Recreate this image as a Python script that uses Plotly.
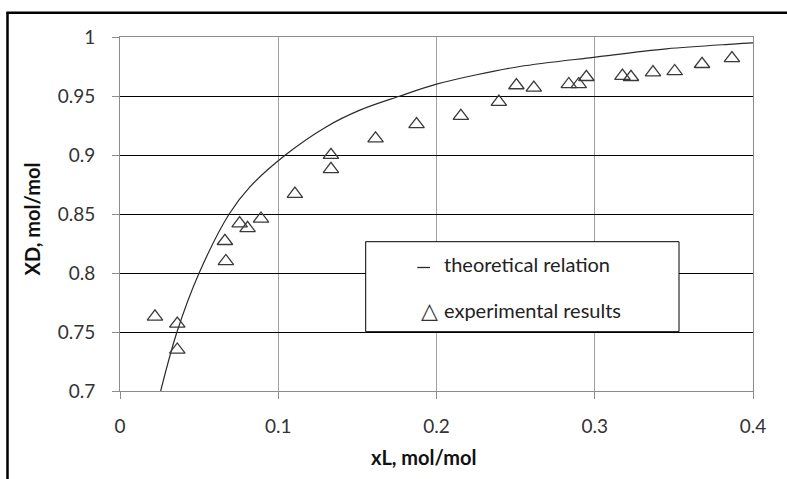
import plotly.graph_objects as go

# ---- data ----
curve_x = [0.0257, 0.036, 0.050, 0.069, 0.0821, 0.1045, 0.1305, 0.1516, 0.177, 0.2,
           0.2253, 0.2526, 0.3004, 0.3453, 0.3874, 0.4]
curve_y = [0.700, 0.750, 0.800, 0.850, 0.873, 0.900, 0.924, 0.938, 0.950, 0.960,
           0.968, 0.975, 0.983, 0.990, 0.994, 0.995]

exp_x = [0.0221, 0.0362, 0.0362, 0.0663, 0.0669, 0.0756, 0.0806, 0.0891, 0.1105, 0.1333,
         0.1333, 0.1615, 0.1874, 0.2154, 0.2394, 0.2505, 0.2615, 0.2836, 0.2899, 0.2947,
         0.3175, 0.3229, 0.3368, 0.3505, 0.3678, 0.3867]
exp_y = [0.763, 0.757, 0.735, 0.827, 0.810, 0.842, 0.838, 0.846, 0.867, 0.900,
         0.888, 0.914, 0.926, 0.933, 0.945, 0.959, 0.957, 0.960, 0.960, 0.966,
         0.967, 0.966, 0.970, 0.971, 0.977, 0.982]

x_tick_vals = [0, 0.1, 0.2, 0.3, 0.4]
x_tick_text = ["0", "0.1", "0.2", "0.3", "0.4"]
y_tick_vals = [0.7, 0.75, 0.8, 0.85, 0.9, 0.95, 1.0]
y_tick_text = ["0.7", "0.75", "0.8", "0.85", "0.9", "0.95", "1"]

series_names = ["theoretical relation", "experimental results"]
x_title = "xL, mol/mol"
y_title = "XD, mol/mol"

# ---- layout geometry (pixels) ----
W, H = 787, 479
ML, MR, MT, MB = 120, 34, 37, 88


def px(x):
    return (x - ML) / (W - ML - MR)


def py(y):
    return (H - MB - y) / (H - MT - MB)


FONT = "Lato"
GRAY = "#8c8c8c"

fig = go.Figure()
fig.add_trace(go.Scatter(
    x=curve_x, y=curve_y, mode="lines", name=series_names[0],
    line=dict(color="#2a2a2a", width=1.2, shape="spline", smoothing=1.0),
    showlegend=False,
))
fig.add_trace(go.Scatter(
    x=exp_x, y=exp_y, mode="markers", name=series_names[1],
    marker=dict(symbol="triangle-up-open", size=13.5, color="#3a3a3a",
                line=dict(width=1.3, color="#3a3a3a")),
    showlegend=False,
))

fig.update_layout(
    width=W, height=H,
    margin=dict(l=ML, r=MR, t=MT, b=MB, autoexpand=False),
    paper_bgcolor="white", plot_bgcolor="white",
    font=dict(family=FONT, size=19, color="#333333"),
    showlegend=False,
)
fig.update_xaxes(
    range=[0, 0.4], tickvals=x_tick_vals, ticktext=x_tick_text,
    showgrid=True, gridcolor="#a0a0a0", gridwidth=1,
    showline=True, linecolor=GRAY, linewidth=1, mirror=True,
    ticks="outside", ticklen=7, tickcolor=GRAY, tickwidth=1,
    ticklabelstandoff=11, zeroline=False, automargin=False,
    tickfont=dict(family=FONT, size=19, color="#333333"),
)
fig.update_yaxes(
    range=[0.7, 1.0], tickvals=y_tick_vals, ticktext=y_tick_text,
    showgrid=True, gridcolor="#000000", gridwidth=1,
    showline=True, linecolor=GRAY, linewidth=1, mirror=True,
    ticks="outside", ticklen=7, tickcolor=GRAY, tickwidth=1,
    ticklabelstandoff=13, zeroline=False, automargin=False,
    tickfont=dict(family=FONT, size=19, color="#333333"),
)

shapes = [
    # outer chart frame (cropped on right and bottom)
    dict(type="line", xref="paper", yref="paper", x0=px(7.5), x1=px(7.5),
         y0=py(H + 5), y1=py(12.7), line=dict(color="black", width=2.5)),
    dict(type="line", xref="paper", yref="paper", x0=px(6.3), x1=px(W + 5),
         y0=py(12.7), y1=py(12.7), line=dict(color="black", width=2.5)),
    # legend box
    dict(type="rect", xref="paper", yref="paper", x0=px(365.7), x1=px(679),
         y0=py(331.7), y1=py(241.7), fillcolor="white",
         line=dict(color="black", width=1), layer="above"),
    # legend line symbol
    dict(type="line", xref="paper", yref="paper", x0=px(417.3), x1=px(430),
         y0=py(267.5), y1=py(267.5), line=dict(color="#2a2a2a", width=1.3), layer="above"),
]
fig.update_layout(shapes=shapes)

annotations = [
    dict(text=series_names[0], x=px(441.5), y=py(264), xref="paper", yref="paper",
         xanchor="left", yanchor="middle", showarrow=False,
         font=dict(family=FONT, size=20, color="#222222")),
    dict(text=series_names[1], x=px(441.5), y=py(310), xref="paper", yref="paper",
         xanchor="left", yanchor="middle", showarrow=False,
         font=dict(family=FONT, size=20, color="#222222")),
    dict(text="△", x=px(429.5), y=py(310), xref="paper", yref="paper",
         xanchor="center", yanchor="middle", showarrow=False,
         font=dict(family="DejaVu Sans", size=22, color="#333333")),
    dict(text="<b>" + x_title + "</b>", x=px(423.5), y=py(457), xref="paper", yref="paper",
         xanchor="center", yanchor="middle", showarrow=False,
         font=dict(family=FONT, size=20, color="#111111")),
    dict(text="<b>" + y_title + "</b>", x=px(31.5), y=py(219), xref="paper", yref="paper",
         xanchor="center", yanchor="middle", showarrow=False, textangle=-90,
         font=dict(family=FONT, size=20, color="#111111")),
]
fig.update_layout(annotations=annotations)

fig.write_html(
    "out.html",
    config={"displayModeBar": False},
    post_script="document.body.style.margin='0';document.body.style.overflow='hidden';",
)
